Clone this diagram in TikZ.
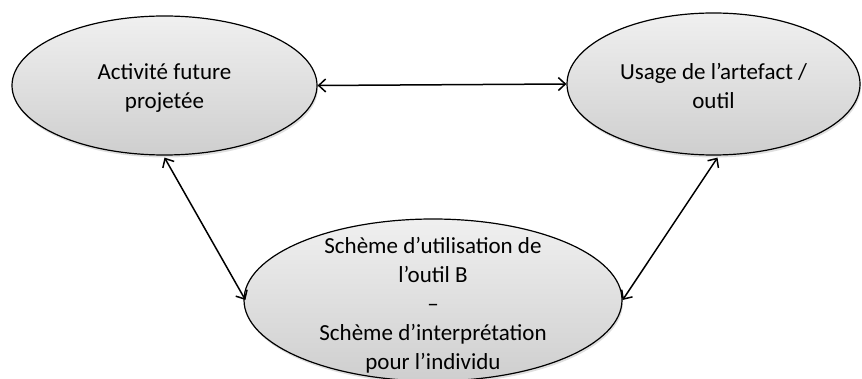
\documentclass[tikz,border=0pt]{standalone}
\usepackage{fontspec}
\setmainfont{Carlito}
\usetikzlibrary{arrows.meta,shadows,shapes.geometric}
\begin{document}
\begin{tikzpicture}[x=1pt,y=-1pt,
  bubble/.style={ellipse,draw=black,line width=1.2pt,inner sep=0pt,
    top color=gray!12,bottom color=gray!38,
    drop shadow={shadow xshift=1pt,shadow yshift=-2.5pt,opacity=0.25}},
  txt/.style={align=center,font=\fontsize{23}{27}\selectfont},
  link/.style={line width=1.5pt,{Straight Barb[length=7pt,width=13pt,line width=1.5pt]}-{Straight Barb[length=7pt,width=13pt,line width=1.5pt]}}]
\useasboundingbox (0,0) rectangle (862,379);
\node[bubble,minimum width=305pt,minimum height=139pt] (L) at (164.5,85.5) {};
\node[txt] (Lt) at (164.5,88) {Activité future\\[2.5pt]projetée};
\node[bubble,minimum width=293pt,minimum height=142pt] (R) at (713.5,84) {};
\node[txt] (Rt) at (713.5,86) {Usage de l’artefact /\\[2.5pt]outil};
\node[bubble,minimum width=378pt,minimum height=162pt] (B) at (433,300) {};
\node[txt] (Bt) at (433,305) {Schème d’utilisation de\\[2pt]l’outil B\\[2pt]–\\[2pt]Schème d’interprétation\\[2pt]pour l’individu};
\draw[link] (L.east) -- (R.west);
\draw[link] ([yshift=-2pt]L.south) -- ([xshift=2pt]B.west);
\draw[link] ([xshift=4pt,yshift=-2pt]R.south) -- ([xshift=0pt]B.east);
\end{tikzpicture}
\end{document}
